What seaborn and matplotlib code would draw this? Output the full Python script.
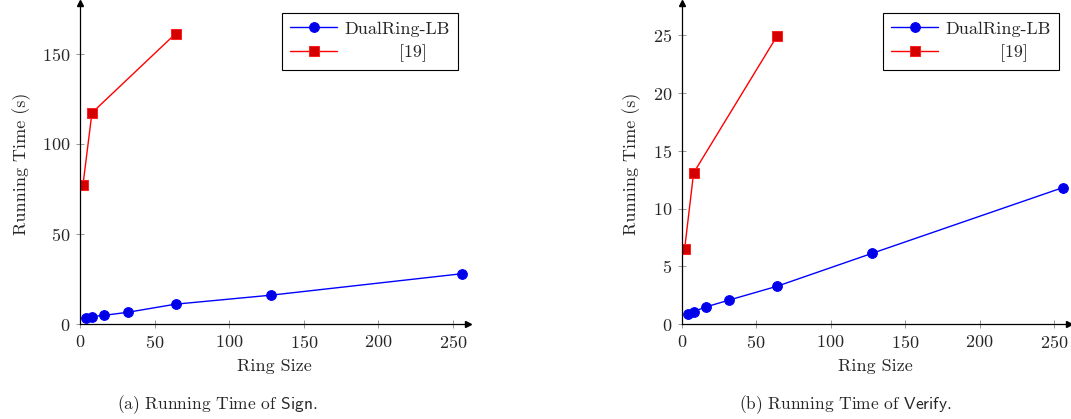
import matplotlib
matplotlib.use('Agg')
import matplotlib.pyplot as plt
import seaborn as sns
import pandas as pd

# Data
ring_dual = [4, 8, 16, 32, 64, 128, 256]
sign_dual = [3.2, 4.1, 4.8, 6.5, 11.0, 16.0, 27.9]
verify_dual = [0.9, 1.07, 1.47, 2.08, 3.27, 6.13, 11.82]

ring_ref = [2, 8, 64]
sign_ref = [77.3, 117.1, 161.0]
verify_ref = [6.53, 13.09, 24.94]

labels = ['DualRing-LB', '[19]']
captions = [r'(a) Running Time of $\mathsf{Sign}$.', r'(b) Running Time of $\mathsf{Verify}$.']

sns.set_style('ticks')
plt.rcParams['font.family'] = ['cmr10', 'DejaVu Serif']
plt.rcParams['mathtext.fontset'] = 'cm'
plt.rcParams['axes.formatter.use_mathtext'] = True
plt.rcParams['font.size'] = 13

fig = plt.figure(figsize=(10.71, 4.19), dpi=100)
ax1 = fig.add_axes([0.0747, 0.2267, 0.3623, 0.766])
ax2 = fig.add_axes([0.6365, 0.2267, 0.3616, 0.766])


def draw(ax, y_dual, y_ref, ymax, yticks, caption, cx):
    df_dual = pd.DataFrame({'Ring Size': ring_dual, 'Time': y_dual})
    df_ref = pd.DataFrame({'Ring Size': ring_ref, 'Time': y_ref})
    sns.lineplot(data=df_dual, x='Ring Size', y='Time', ax=ax, color='#0000ff', lw=1,
                 marker='o', markersize=7, markerfacecolor='#0000e6', markeredgecolor='#0000ff',
                 label=labels[0])
    sns.lineplot(data=df_ref, x='Ring Size', y='Time', ax=ax, color='#ff0000', lw=1,
                 marker='s', markersize=6.5, markerfacecolor='#d40000', markeredgecolor='#ff2020',
                 label='         ' + labels[1])
    ax.set_xlim(0, 260)
    ax.set_ylim(0, ymax)
    ax.set_xticks([0, 50, 100, 150, 200, 250])
    ax.set_yticks(yticks)
    ax.set_xlabel('Ring Size', fontsize=13, labelpad=6)
    ax.set_ylabel('Running Time (s)', fontsize=13, labelpad=8)
    sns.despine(ax=ax)
    for s in ['left', 'bottom']:
        ax.spines[s].set_linewidth(0.9)
        ax.spines[s].set_color('black')
    ax.tick_params(direction='inout', length=6, width=0.6, color='#888888', labelsize=13, pad=4)
    # axis arrows
    ax.plot(1, 0, '>k', ms=4, transform=ax.get_yaxis_transform(), clip_on=False)
    ax.plot(0, 1, '^k', ms=4, transform=ax.get_xaxis_transform(), clip_on=False)
    leg = ax.legend(loc='upper right', fancybox=False, framealpha=1, edgecolor='black',
                    fontsize=13, borderaxespad=0.55, handlelength=2.6, borderpad=0.45,
                    labelspacing=0.42, handletextpad=0.4)
    leg.get_frame().set_linewidth(0.8)
    fig.text(cx, 0.034, caption, ha='center', va='center', fontsize=12.5)


draw(ax1, sign_dual, sign_ref, 178, [0, 50, 100, 150], captions[0], 217 / 1071)
draw(ax2, verify_dual, verify_ref, 27.8, [0, 5, 10, 15, 20, 25], captions[1], 845 / 1071)

fig.savefig('out.png', dpi=100)
